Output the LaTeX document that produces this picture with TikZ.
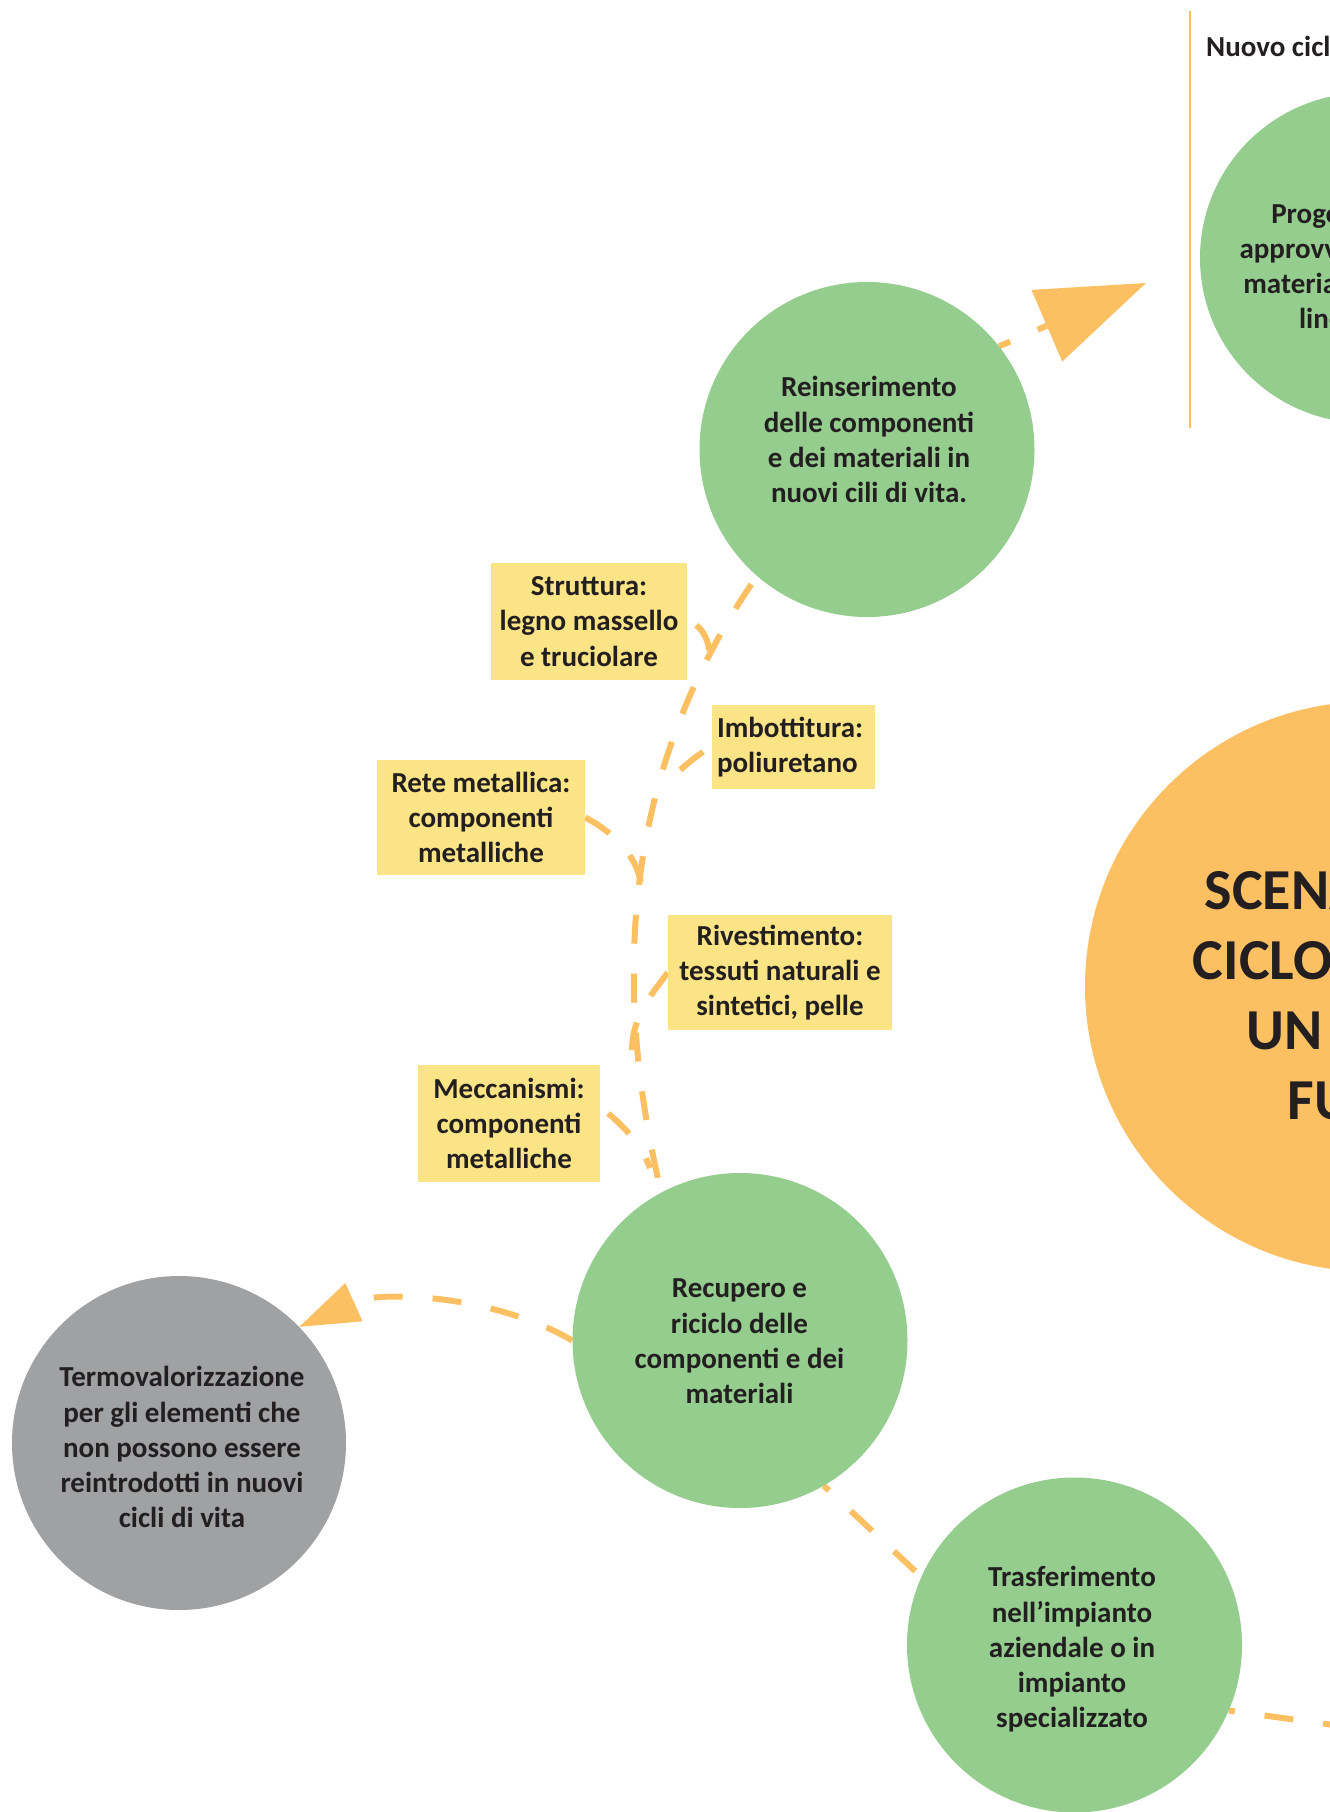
\documentclass[tikz,border=0pt]{standalone}
\usepackage{fontspec}
\setmainfont{Carlito}
\usetikzlibrary{arrows.meta}

\definecolor{leaf}{RGB}{148,205,142}
\definecolor{amber}{RGB}{252,192,98}
\definecolor{sand}{RGB}{251,228,133}
\definecolor{slate}{RGB}{159,161,162}
\definecolor{ink}{RGB}{35,31,32}

\pgfdeclarelayer{back}
\pgfsetlayers{back,main}

% centred lines whose baseline is the baseline of the first line
\newcommand{\textrows}[1]{\vtop{\halign{\hfil##\hfil\cr#1\crcr}}}

\begin{document}
\begin{tikzpicture}[x=1pt,y=-1pt,
  body/.style={font=\fontsize{29}{35.3}\selectfont\bfseries, text=ink},
  stage/.style={circle, fill=leaf, minimum size=335pt, inner sep=0pt},
  caption/.style={body, anchor=base, inner sep=0pt},
  part/.style={body, fill=sand, inner sep=0pt, align=center},
  flow/.style={draw=amber, line width=6pt, dash pattern=on 29pt off 30pt},
  bigtip/.style={-{Triangle[length=108pt,width=78pt,line width=0pt]}},
  smalltip/.style={-{Triangle[length=60pt,width=42pt,line width=0pt]}}
]
\useasboundingbox (0,0) rectangle (1330,1812);

% ---------- stages of the cycle ----------
\node[circle, fill=amber, minimum size=570pt, inner sep=0pt] (scenario) at (1370,986.5) {};
\node[stage, minimum size=330pt] (proget) at (1365,258) {};
\node[stage] (reins) at (867,449.5) {};
\node[stage] (recup) at (740,1340.5) {};
\node[stage] (trasf) at (1074.5,1645) {};
\node[stage, fill=slate, minimum size=334pt] (termo) at (179,1443) {};

% ---------- captions ----------
\node[caption, font=\fontsize{58}{70}\selectfont\bfseries] (scenario-t) at (1389,909)
  {\textrows{SCENARIO FINE\cr CICLO DI VITA DI\cr UN DIVANO\cr FUTURO}};
\node[caption] (proget-t) at (1365,223)
  {\textrows{Progettazione e\cr approvvigionamento\cr materiali secondo le\cr linee guida}};
\node[caption] (reins-t) at (869,396.7)
  {\textrows{Reinserimento\cr delle componenti\cr e dei materiali in\cr nuovi cili di vita.}};
\node[caption] (recup-t) at (739.5,1297.7)
  {\textrows{Recupero e\cr riciclo delle\cr componenti e dei\cr materiali}};
\node[caption] (trasf-t) at (1072,1586.7)
  {\textrows{Trasferimento\cr nell’impianto\cr aziendale o in\cr impianto\cr specializzato}};
\node[caption] (termo-t) at (182,1386.7)
  {\textrows{Termovalorizzazione\cr per gli elementi che\cr non possono essere\cr reintrodotti in nuovi\cr cicli di vita}};
\node[caption, anchor=base west] (nuovo) at (1206,56) {Nuovo ciclo di vita};

% ---------- components of the product ----------
\node[part, minimum width=196pt, minimum height=117pt] (strutt) at (589,621.5)
  {Struttura:\\legno massello\\e truciolare};
\node[part, minimum width=163pt, minimum height=84pt, text width=153pt, align=left] (imbott) at (793.5,747)
  {Imbottitura:\\poliuretano};
\node[part, minimum width=208pt, minimum height=115pt] (rete) at (481,817.5)
  {Rete metallica:\\componenti\\metalliche};
\node[part, minimum width=224pt, minimum height=115pt] (rives) at (780,972.5)
  {Rivestimento:\\tessuti naturali e\\sintetici, pelle};
\node[part, minimum width=182pt, minimum height=117pt] (mecc) at (509,1123.5)
  {Meccanismi:\\componenti\\metalliche};

% free ends and joints
\coordinate (newcycle) at (1146,283);
\coordinate (eastexit) at (1420,1737);
\coordinate (j1) at (709,657);
\coordinate (j2) at (662,790);
\coordinate (j3) at (641,885);
\coordinate (j4) at (632,1050);
\coordinate (j5) at (650,1168);

\begin{pgfonlayer}{back}
  \fill[white] (0,0) rectangle (1330,1812);
  % separator of the next cycle
  \draw[amber, line width=2.8pt] (1190,11) -- (1190,428);

  % main flow: recovery back into new cycles
  \draw[flow, dash phase=49pt] (reins.229) .. controls (615,780) and (615,1000) .. (recup.118);
  % components joining the flow
  \draw[flow, dash phase=49pt] (strutt.east) .. controls (699,622) and (711,640) .. (j1);
  \draw[flow, dash phase=49pt] (imbott.west) .. controls (700,752) and (672,775) .. (j2);
  \draw[flow] (rete.east) .. controls (610,830) and (638,855) .. (j3);
  \draw[flow] (rives.west) .. controls (655,990) and (632,1015) .. (j4);
  \draw[flow, dash phase=49pt] (mecc.10) .. controls (615,1118) and (640,1140) .. (j5);

  % onwards to the new cycle
  \draw[flow, dash phase=17pt, bigtip] (reins.38) -- (newcycle);
  % waste to energy
  \draw[flow, smalltip] (recup.west) .. controls (494.6,1295) and (381,1290) .. (termo.44);
  % transfer to the plant
  \draw[flow, dash phase=22pt] (recup.-60.5) -- (trasf.156);
  \draw[flow, dash phase=23pt] (trasf.-23.7) -- (eastexit);
\end{pgfonlayer}
\end{tikzpicture}
\end{document}
